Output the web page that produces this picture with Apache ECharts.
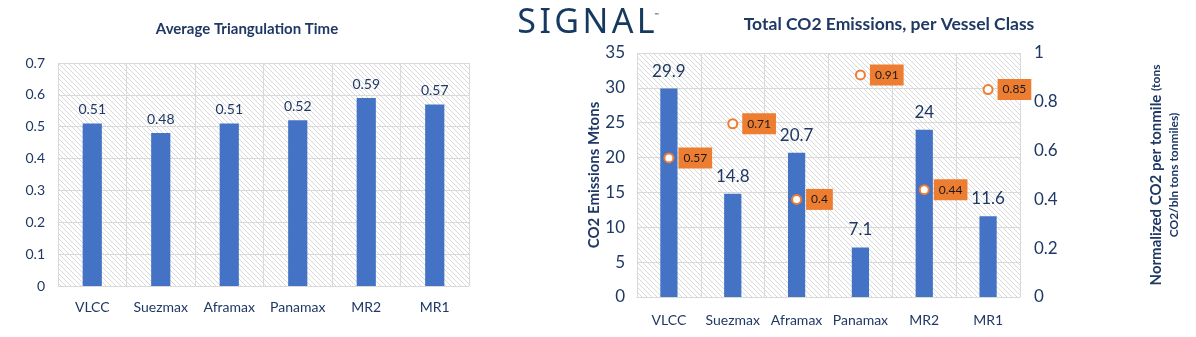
<!DOCTYPE html>
<html><head><meta charset="utf-8">
<script src="https://cdn.jsdelivr.net/npm/echarts@6/dist/echarts.min.js"></script>
<style>html,body{margin:0;padding:0;background:#fff}#c{width:1196px;height:337px}</style>
</head><body><div id="c"></div>
<script>
const categories = ['VLCC','Suezmax','Aframax','Panamax','MR2','MR1'];
const triangulationTime = [0.51,0.48,0.51,0.52,0.59,0.57];
const co2Emissions = [29.9,14.8,20.7,7.1,24,11.6];
const co2PerTonmile = [0.57,0.71,0.4,0.91,0.44,0.85];

const NAVY = '#1f3864';
const FONT = 'Lato, "Open Sans", sans-serif';

function hatch(){
  const c = document.createElement('canvas');
  c.width = 5; c.height = 5;
  const g = c.getContext('2d');
  g.fillStyle = '#ffffff'; g.fillRect(0,0,5,5);
  g.fillStyle = '#d9d9d9';
  for (let i=0;i<5;i++){ g.fillRect(i,i,1,1); }
  return c;
}
const pat = {image: hatch(), repeat: 'repeat'};

const chart = echarts.init(document.getElementById('c'), null, {renderer:'canvas'});
function catAxis(grid, fs, margin){
  return {
    type:'category', data: categories, gridIndex:grid,
    axisTick:{show:false},
    axisLine:{lineStyle:{color:'#d9d9d9', width:1}},
    splitLine:{show:true, interval:0, lineStyle:{color:'#d9d9d9', width:1}},
    axisLabel:{interval:0, color:NAVY, fontFamily:FONT, fontSize:fs, margin:margin}
  };
}
chart.setOption({
  animation:false,
  textStyle:{fontFamily:FONT},
  title:[
    {text:'Average Triangulation Time', left:242, top:17, textAlign:'center',
     textStyle:{fontSize:15, fontWeight:'bold', color:NAVY, fontFamily:FONT}},
    {text:'Total CO2 Emissions, per Vessel Class', left:884, top:10, textAlign:'center',
     textStyle:{fontSize:17.5, fontWeight:'bold', color:NAVY, fontFamily:FONT}},
    {text:'S\u200AI\u200AG\u200AN\u200AA\u200AL', left:581, top:1, textAlign:'center',
     textStyle:{fontSize:34, fontWeight:'normal', color:'#163a5f', fontFamily:'"Noto Sans", sans-serif'}},
    {text:'™', left:649, top:7,
     textStyle:{fontSize:6, fontWeight:'normal', color:'#163a5f'}}
  ],
  grid:[
    {left:58, right:727, top:63, bottom:51, show:true, backgroundColor:pat, borderWidth:0},
    {left:637, right:176, top:53, bottom:40, show:true, backgroundColor:pat, borderWidth:0}
  ],
  xAxis:[ catAxis(0, 14, 14), catAxis(1, 14, 16) ],
  yAxis:[
    {type:'value', gridIndex:0, min:0, max:0.7, interval:0.1,
     axisLine:{show:false}, axisTick:{show:false},
     splitLine:{lineStyle:{color:'#d9d9d9'}},
     axisLabel:{color:NAVY, fontSize:14, margin:13, fontFamily:FONT}},
    {type:'value', gridIndex:1, min:0, max:35, interval:5,
     axisLine:{show:false}, axisTick:{show:false},
     splitLine:{lineStyle:{color:'#d9d9d9'}},
     axisLabel:{color:NAVY, fontSize:17, margin:12, fontFamily:FONT},
     name:'CO2 Emissions Mtons', nameLocation:'middle', nameRotate:90, nameGap:32,
     nameTextStyle:{color:NAVY, fontSize:15, fontWeight:'bold', fontFamily:FONT}},
    {type:'value', gridIndex:1, position:'right', min:0, max:1, interval:0.2,
     axisLine:{show:false}, axisTick:{show:false}, splitLine:{show:false},
     axisLabel:{color:NAVY, fontSize:17, margin:14, fontFamily:FONT},
     name:'{a|Normalized CO2 per tonmile }{b|(tons}\n{b|CO2/bln tons tonmiles)}',
     nameLocation:'middle', nameRotate:90, nameGap:127,
     nameTextStyle:{color:NAVY, fontFamily:FONT, align:'center',
       rich:{a:{fontSize:15, fontWeight:'bold', color:NAVY, fontFamily:FONT, lineHeight:18},
             b:{fontSize:12, fontWeight:'bold', color:NAVY, fontFamily:FONT, lineHeight:18}}}}
  ],
  series:[
    {type:'bar', xAxisIndex:0, yAxisIndex:0, data:triangulationTime, barWidth:'28%',
     itemStyle:{color:'#4472c4'},
     label:{show:true, position:'top', distance:7, color:NAVY, fontSize:14, fontFamily:FONT}},
    {type:'bar', xAxisIndex:1, yAxisIndex:1, data:co2Emissions, barWidth:'27%',
     itemStyle:{color:'#4472c4'},
     label:{show:true, position:'top', distance:9, color:NAVY, fontSize:17, fontFamily:FONT}},
    {type:'scatter', xAxisIndex:1, yAxisIndex:2, data:co2PerTonmile, symbol:'circle', symbolSize:9,
     itemStyle:{color:'#ffffff', borderColor:'#ed7d31', borderWidth:2, opacity:1},
     label:{show:true, position:'right', distance:4, color:'#1a1a1a', fontSize:12, fontFamily:FONT,
            backgroundColor:'#ed7d31', padding:[5,5,4,5]}}
  ]
});
</script></body></html>
